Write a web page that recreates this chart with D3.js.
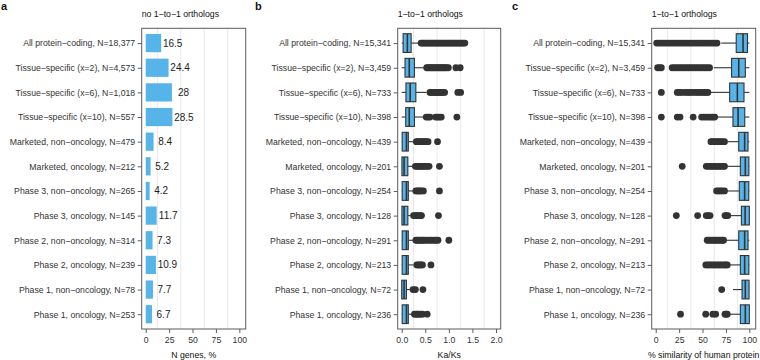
<!DOCTYPE html>
<html><head><meta charset="utf-8">
<script src="https://cdn.jsdelivr.net/npm/d3@7"></script>
<style>
html,body{margin:0;padding:0;background:#fff;}
svg{display:block;font-family:"Liberation Sans",Arial,Helvetica,sans-serif;}
</style></head>
<body><svg id="chart" width="760" height="360"></svg>
<script>
// ---------- DATA ----------
const groups = ["All protein−coding","Tissue−specific (x=2)","Tissue−specific (x=6)","Tissue−specific (x=10)",
  "Marketed, non−oncology","Marketed, oncology","Phase 3, non−oncology","Phase 3, oncology",
  "Phase 2, non−oncology","Phase 2, oncology","Phase 1, non−oncology","Phase 1, oncology"];
const nAllGenes = ["18,377","4,573","1,018","557","479","212","265","145","314","239","78","253"];
const nOrthologs = ["15,341","3,459","733","398","439","201","254","128","291","213","72","236"];

// panel a: % genes with no 1-to-1 orthologs
const pctNoOrtholog = [16.5, 24.4, 28, 28.5, 8.4, 5.2, 4.2, 11.7, 7.3, 10.9, 7.7, 6.7];

// panel b: Ka/Ks boxplots
const kaksLow  = [0.0, 0.0, 0.0, 0.0, 0.0, 0.0, 0.0, 0.0, 0.0, 0.0, 0.0, 0.0];
const kaksQ1   = [0.03, 0.07, 0.09, 0.085, 0.01, 0.005, 0.01, 0.005, 0.01, 0.01, 0.0, 0.01];
const kaksMed  = [0.12, 0.16, 0.18, 0.16, 0.1, 0.05, 0.1, 0.05, 0.1, 0.1, 0.05, 0.1];
const kaksQ3   = [0.2, 0.27, 0.3, 0.27, 0.14, 0.13, 0.14, 0.13, 0.14, 0.14, 0.1, 0.14];
const kaksHigh = [0.37, 0.48, 0.53, 0.46, 0.26, 0.22, 0.24, 0.18, 0.24, 0.25, 0.17, 0.21];
const kaksOut = [
  [0.41,0.44,0.47,0.5,0.53,0.56,0.59,0.62,0.65,0.68,0.71,0.74,0.77,0.8,0.83,0.86,0.89,0.92,0.95,0.98,1.01,1.04,1.07,1.1,1.13,1.16,1.19,1.22,1.25,1.28,1.31,1.34],
  [0.53,0.56,0.59,0.62,0.65,0.68,0.71,0.74,0.77,0.8,0.83,0.86,0.89,0.92,0.95,0.99,1.15,1.24],
  [0.6,0.63,0.66,0.69,0.72,0.75,0.78,0.81,0.84,0.87,0.91,1.19,1.25],
  [0.52,0.56,0.6,0.72,0.76,0.8,0.84,1.17],
  [0.31,0.34,0.37,0.4,0.43,0.46,0.49,0.52,0.56,0.76],
  [0.29,0.32,0.35,0.38,0.41,0.44,0.47,0.5,0.54,0.58,0.8],
  [0.3,0.33,0.36,0.39,0.42,0.46,0.8],
  [0.25,0.28,0.31,0.34,0.37,0.4,0.42,0.78],
  [0.3,0.33,0.36,0.4,0.43,0.46,0.5,0.55,0.6,0.64,0.69,0.73,0.77,1.0],
  [0.32,0.35,0.38,0.41,0.44,0.62],
  [0.24,0.29,0.45],
  [0.27,0.3,0.33,0.36,0.4,0.44,0.54]
];

// panel c: % similarity of human protein boxplots
const simLow  = [70, 62, 59, 66, 77, 77, 76, 80, 75.5, 79, 82.6, 79];
const simQ1   = [86, 81, 79, 82.5, 88.7, 90.4, 89.3, 91.5, 88.7, 90.4, 92.2, 90.4];
const simMed  = [93.3, 88.7, 87.2, 88, 95, 95.7, 95, 95.5, 95, 95, 95.7, 95.7];
const simQ3   = [98, 95.7, 94.3, 95.1, 98.6, 99.5, 99.4, 100, 98.6, 99.5, 99.7, 100];
const simHigh = [100, 100, 100, 100, 100, 100, 100, 100, 100, 100, 100, 100];
const simOut = [
  [1,3.5,6,8.5,11,13.5,16,18.5,21,23.5,26,28.5,31,33.5,36,38.5,41,43.5,46,48.5,51,53.5,56,58.5,61,63.5,65.5],
  [2,4,6,17.5,20,22.5,25,27.5,30,32.5,35,37.5,40,42.5,45,47.5,50,52.5,55,57.5],
  [6,23,25.5,28,31.5,34,36.5,39,42,44.5,47,49.5,52,54,55.7],
  [6,23,26,40,49,51.5,54,56.5,59,61,63],
  [59,61,63,65,67,69,71,73.5],
  [28.3,54,56,58,60,62,64,66,68,70,72,73.5],
  [65,67,69,71,73.5],
  [22,44.8,54,56,58,74,75.5,77],
  [55,57,59,61,63,65,67,69,71,72.5],
  [53.5,55.5,57.5,59.5,61.5,63.5,65.5,67.5,69.5,71.5,73.5,75,76.4],
  [70.5],
  [26.5,53.4,61,64,74,75.2,76.4]
];

// tick values / labels
const ticksPct = [0, 25, 50, 75, 100];
const gridPct  = [12.5, 37.5, 62.5, 87.5];
const ticksKaks = [0, 0.5, 1, 1.5, 2];
const gridKaks  = [0.25, 0.75, 1.25, 1.75];

// ---------- DRAW ----------
const svg = d3.select("#chart");
const FILL = "#56B4E9", DARK = "#333333", TXT = "#333333";
const FS = 8.7;
const plotTop = 28.3, plotBottom = 329;
const idx = d3.range(groups.length);
const y = d3.scalePoint().domain(idx).range([plotTop, plotBottom]).padding(0.6);
const step = y.step();

const labelsA = groups.map((g,i) => g + ", N=" + nAllGenes[i]);
const labelsB = groups.map((g,i) => g + ", N=" + nOrthologs[i]);

function panel(opts) {
  const {left, right, domain, ticks, grid, fmt, labels, title, xTitle, tag, tagX} = opts;
  const x = d3.scaleLinear().domain(domain).range([left, right]);
  const g = svg.append("g");
  g.selectAll("line.grid").data(grid).join("line")
    .attr("x1", d => x(d)).attr("x2", d => x(d))
    .attr("y1", plotTop).attr("y2", plotBottom)
    .attr("stroke", "#e3e3e3").attr("stroke-width", 0.8);
  const ya = g.append("g").attr("transform", `translate(${left},0)`)
    .call(d3.axisLeft(y).tickSize(4).tickPadding(2.5).tickFormat(i => labels[i]));
  ya.select(".domain").remove();
  ya.selectAll("line").attr("stroke", DARK).attr("stroke-width", 0.8);
  ya.selectAll("text").attr("font-size", FS).attr("fill", TXT)
    .attr("font-family", '"Liberation Sans",Arial,sans-serif');
  const xa = g.append("g").attr("transform", `translate(0,${plotBottom})`)
    .call(d3.axisBottom(x).tickValues(ticks).tickSize(4).tickPadding(4).tickFormat(fmt));
  xa.select(".domain").remove();
  xa.selectAll("line").attr("stroke", DARK).attr("stroke-width", 0.8);
  xa.selectAll("text").attr("font-size", FS).attr("fill", TXT)
    .attr("font-family", '"Liberation Sans",Arial,sans-serif');
  svg.append("text").attr("x", left).attr("y", 17).attr("font-size", FS).attr("fill", "#111").text(title);
  svg.append("text").attr("x", (left+right)/2).attr("y", 358).attr("text-anchor", "middle")
    .attr("font-size", FS).attr("fill", "#111").text(xTitle);
  svg.append("text").attr("x", tagX).attr("y", 10).attr("font-size", 11).attr("font-weight", "bold")
    .attr("fill", "#111").text(tag);
  opts.x = x; opts.g = g;
  return opts;
}

function border(p) {
  svg.append("rect").attr("x", p.left).attr("y", plotTop).attr("width", p.right - p.left).attr("height", plotBottom - plotTop)
    .attr("fill", "none").attr("stroke", "#5a5a5a").attr("stroke-width", 1);
}

// Panel a
const pa = panel({left:141.7, right:245.7, domain:[-4.3,106.8], ticks:ticksPct, grid:gridPct,
  fmt:d3.format("d"), labels:labelsA, title:"no 1−to−1 orthologs", xTitle:"N genes, %", tag:"a", tagX:1});
const bh = step * 0.74;
pa.g.selectAll("rect.bar").data(idx).join("rect")
  .attr("x", pa.x(0)).attr("y", i => y(i) - bh/2)
  .attr("width", i => pa.x(pctNoOrtholog[i]) - pa.x(0)).attr("height", bh)
  .attr("fill", FILL);
pa.g.selectAll("text.val").data(idx).join("text")
  .attr("x", i => pa.x(pctNoOrtholog[i] + 12.3)).attr("y", i => y(i)).attr("dy", "0.35em")
  .attr("text-anchor", "middle").attr("font-size", 10).attr("fill", "#222")
  .text(i => d3.format("")(pctNoOrtholog[i]));
border(pa);

function boxes(p, low, q1, med, q3, high, outs) {
  const x = p.x, g = p.g, h = step * 0.76;
  const rows = g.selectAll("g.row").data(idx).join("g");
  rows.append("line").attr("x1", i => x(low[i])).attr("x2", i => x(q1[i]))
    .attr("y1", i => y(i)).attr("y2", i => y(i)).attr("stroke", DARK).attr("stroke-width", 1.1);
  rows.append("line").attr("x1", i => x(q3[i])).attr("x2", i => x(high[i]))
    .attr("y1", i => y(i)).attr("y2", i => y(i)).attr("stroke", DARK).attr("stroke-width", 1.1);
  rows.append("rect").attr("x", i => x(q1[i])).attr("width", i => x(q3[i]) - x(q1[i]))
    .attr("y", i => y(i) - h/2).attr("height", h)
    .attr("fill", FILL).attr("stroke", DARK).attr("stroke-width", 1.1);
  rows.append("line").attr("x1", i => x(med[i])).attr("x2", i => x(med[i]))
    .attr("y1", i => y(i) - h/2).attr("y2", i => y(i) + h/2).attr("stroke", DARK).attr("stroke-width", 1.6);
  rows.selectAll("circle").data(i => outs[i].map(v => ({i, v}))).join("circle")
    .attr("cx", d => x(d.v)).attr("cy", d => y(d.i)).attr("r", 3.4).attr("fill", DARK);
}

// Panel b
const pb = panel({left:397.7, right:500.7, domain:[-0.085,2.1], ticks:ticksKaks, grid:gridKaks,
  fmt:d3.format(".1f"), labels:labelsB, title:"1−to−1 orthologs", xTitle:"Ka/Ks", tag:"b", tagX:255});
boxes(pb, kaksLow, kaksQ1, kaksMed, kaksQ3, kaksHigh, kaksOut);
border(pb);

// Panel c
const pc = panel({left:651.7, right:755.7, domain:[-4.3,106.8], ticks:ticksPct, grid:gridPct,
  fmt:d3.format("d"), labels:labelsB, title:"1−to−1 orthologs", xTitle:"% similarity of human protein", tag:"c", tagX:512});
boxes(pc, simLow, simQ1, simMed, simQ3, simHigh, simOut);
border(pc);
</script></body></html>
